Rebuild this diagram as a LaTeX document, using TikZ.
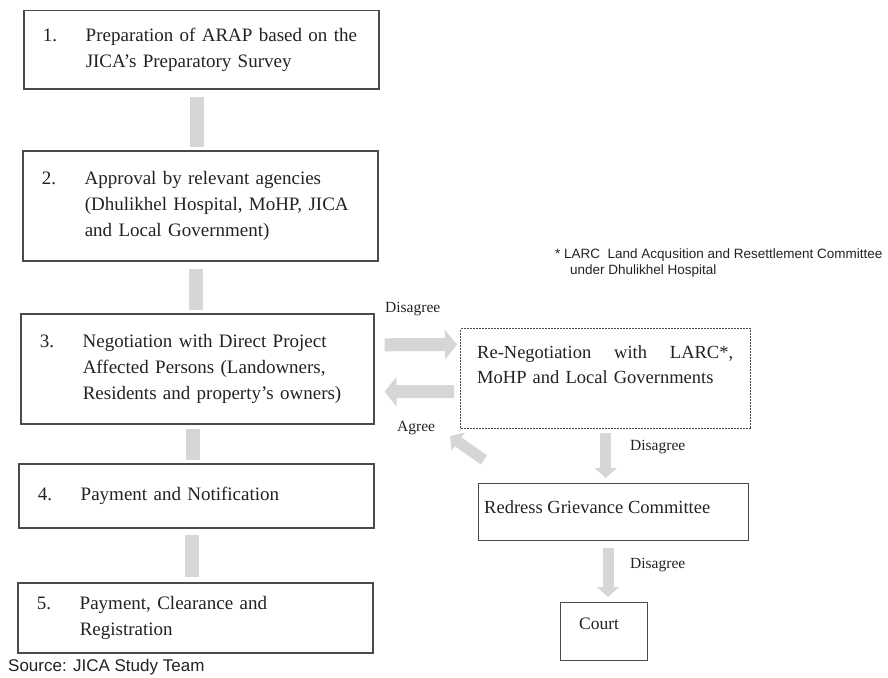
\documentclass[tikz,border=0pt]{standalone}
\usepackage{fontspec}
\setmainfont{Liberation Serif}
\newfontfamily\notesans{Liberation Sans}
\usetikzlibrary{arrows.meta,calc}

\definecolor{ink}{HTML}{222222}
\definecolor{framegray}{HTML}{4A4A4A}
\definecolor{flowgray}{HTML}{D6D6D6}

% step number in its own column, the step text beside it
\newcommand{\stepline}[2]{\makebox[43pt][l]{#1}\begin{tabular}[t]{@{}l@{}}#2\end{tabular}}

\begin{document}
\begin{tikzpicture}[x=1pt,y=-1pt,
  every node/.style={text=ink},
  stepbox/.style={draw=framegray, line width=1.5pt, anchor=north west,
    inner xsep=19pt, inner ysep=0pt, align=left,
    font=\fontsize{19}{26}\selectfont},
  dotbox/.style={draw=framegray, line width=1.4pt, dash pattern=on 2pt off 1pt,
    anchor=north west, inner sep=0pt},
  plainbox/.style={draw=framegray, line width=1.2pt, anchor=north west, inner sep=0pt},
  boxtext/.style={inner sep=0pt, font=\fontsize{18.5}{25}\selectfont},
  lbl/.style={inner sep=0pt, anchor=west, font=\fontsize{15.5}{18}\selectfont},
  flowbar/.style={draw=flowgray, line width=14pt},
  flowarrow/.style={draw=flowgray, line width=13pt, -{Triangle[length=12pt,width=29pt]}},
  thinflow/.style={draw=flowgray, line width=11pt, -{Triangle[length=10pt,width=22pt]}},
]
\useasboundingbox (0,0) rectangle (888,677);

% main procedure
\node[stepbox, minimum width=355pt, minimum height=78pt, text width=317pt] (s1) at (23,10)
  {\stepline{1.}{Preparation of ARAP based on the\\JICA's Preparatory Survey}};
\node[stepbox, minimum width=355pt, minimum height=110pt, text width=317pt] (s2) at (22,150)
  {\stepline{2.}{Approval by relevant agencies\\(Dhulikhel Hospital, MoHP, JICA\\and Local Government)}};
\node[stepbox, minimum width=353pt, minimum height=110pt, text width=315pt] (s3) at (20,313)
  {\stepline{3.}{Negotiation with Direct Project\\Affected Persons (Landowners,\\Residents and property's owners)}};
\node[stepbox, minimum width=355pt, minimum height=64pt, text width=317pt] (s4) at (18,463)
  {\stepline{4.}{Payment and Notification}};
\node[stepbox, minimum width=355pt, minimum height=70pt, text width=317pt] (s5) at (17,582)
  {\stepline{5.}{Payment, Clearance and\\Registration}};

% grievance path
\node[dotbox, minimum width=290pt, minimum height=100pt] (r1) at (460,328) {};
\node[boxtext, anchor=base west, text width=256pt, align=left] (r1t) at (477,358)
  {Re-Negotiation\hfill with\hfill LARC*,\\MoHP and Local Governments};
\node[plainbox, minimum width=270pt, minimum height=57pt] (r2) at (478,483) {};
\node[boxtext, anchor=base west] (r2t) at (484,513) {Redress Grievance Committee};
\node[plainbox, minimum width=87pt, minimum height=58pt] (r3) at (560,602) {};
\node[boxtext, font=\fontsize{17.5}{20}\selectfont] (r3t) at (599,624) {Court};

% flow between the steps
\draw[flowbar] ($(s1.south)+(-4,7)$) -- ($(s1.south |- s2.north)+(-4,-3)$);
\draw[flowbar] ($(s2.south)+(-4,7)$) -- ($(s2.south |- s3.north)+(-4,-3)$);
\draw[flowbar] ($(s3.south)+(-4,4)$) -- ($(s3.south |- s4.north)+(-4,-3)$);
\draw[flowbar] ($(s4.south)+(-4,6)$) -- ($(s4.south |- s5.north)+(-4,-5)$);

\draw[flowarrow] ($(s3.east)+(10,-24)$) -- ($(r1.west)+(-3,-34)$);
\draw[flowarrow] ($(r1.west)+(-6,13)$) -- ($(s3.east)+(10,23)$);
\draw[thinflow] ($(r2.north west)+(6,-23)$) -- ($(r2.north west)+(-28,-47)$);
\draw[thinflow] ($(r1.south)+(0,4)$) -- ($(r1.south |- r2.north)+(0,-5)$);
\draw[thinflow] ($(r3.north |- r2.south)+(4,7)$) -- ($(r3.north)+(4,-5)$);

% labels
\node[lbl] (l1) at (385,309) {Disagree};
\node[lbl] (l2) at (397,428) {Agree};
\node[lbl] (l3) at (630,447) {Disagree};
\node[lbl] (l4) at (630,565) {Disagree};

\node[anchor=west, inner sep=0pt, align=left, font=\notesans\fontsize{13.5}{16}\selectfont] (note) at (555,263)
  {* LARC\ \ Land Acqusition and Resettlement Committee\\\hspace*{15pt}under Dhulikhel Hospital};

\node[anchor=west, inner sep=0pt, font=\notesans\fontsize{17}{20}\selectfont] (src) at (8,667)
  {Source: JICA Study Team};
\end{tikzpicture}
\end{document}
